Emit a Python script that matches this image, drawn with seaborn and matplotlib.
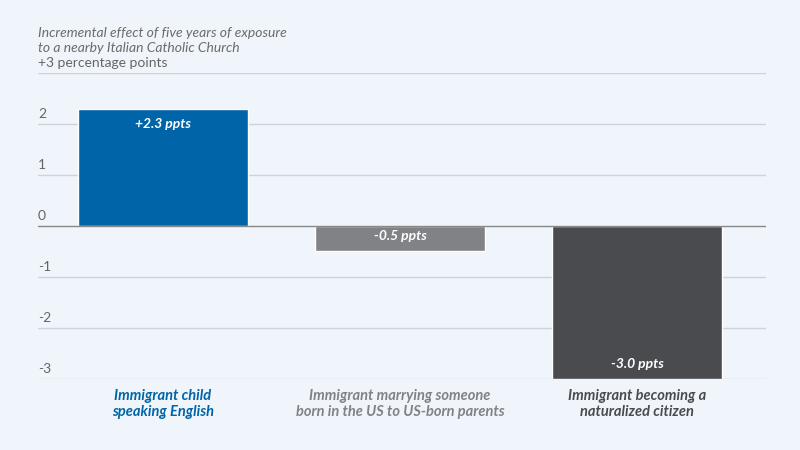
import matplotlib
matplotlib.use("Agg")
import matplotlib.pyplot as plt
import seaborn as sns
import pandas as pd

categories = ["Immigrant child\nspeaking English",
              "Immigrant marrying someone\nborn in the US to US-born parents",
              "Immigrant becoming a\nnaturalized citizen"]
values = [2.3, -0.5, -3.0]
value_labels = ["+2.3 ppts", "-0.5 ppts", "-3.0 ppts"]
colors = ["#0064a8", "#808285", "#4a4b4f"]
yticks = [3, 2, 1, 0, -1, -2, -3]
ytick_labels = ["+3 percentage points", "2", "1", "0", "-1", "-2", "-3"]
title = "Incremental effect of five years of exposure\nto a nearby Italian Catholic Church"

bg = "#eff5fa"
sns.set_theme(style="white")
plt.rcParams["font.family"] = ["Lato", "DejaVu Sans"]

df = pd.DataFrame({"cat": categories, "val": values})

fig = plt.figure(figsize=(8, 4.5), dpi=100, facecolor=bg)
ax = fig.add_axes([0.0475, 0.158, 0.91, 0.68])
ax.set_facecolor(bg)

sns.barplot(data=df, x="cat", y="val", hue="cat", palette=colors,
            width=0.72, legend=False, ax=ax, saturation=1, zorder=3)

ax.set_xlim(-0.527, 2.544)
ax.set_ylim(-3, 3)
for s in ax.spines.values():
    s.set_visible(False)
ax.set_xlabel("")
ax.set_ylabel("")
ax.set_xticks([])
ax.set_yticks([])

for t, lab in zip(yticks, ytick_labels):
    ax.axhline(t, color="#888888" if t == 0 else "#ccd3d9",
               lw=1.0, zorder=1 if t != 0 else 4)
    ax.text(0.0, t + 0.08, lab, transform=ax.get_yaxis_transform(),
            ha="left", va="bottom", fontsize=10, color="#666666")

ax.text(0.0, 3.38, title, transform=ax.get_yaxis_transform(),
        ha="left", va="bottom", fontsize=10, style="italic", color="#6b6b6b",
        linespacing=1.25)

for i, (v, lab) in enumerate(zip(values, value_labels)):
    y = v - 0.3 if v > 0 else v + 0.3
    ax.text(i, y, lab, ha="center", va="center", fontsize=10,
            fontweight="bold", style="italic", color="white", zorder=5)

for i, (c, col) in enumerate(zip(categories, colors)):
    ax.text(i, -3.2, c, ha="center", va="top", fontsize=10.5,
            fontweight="bold", style="italic", color=col, linespacing=1.15)

fig.savefig("out.png", dpi=100, facecolor=bg)
